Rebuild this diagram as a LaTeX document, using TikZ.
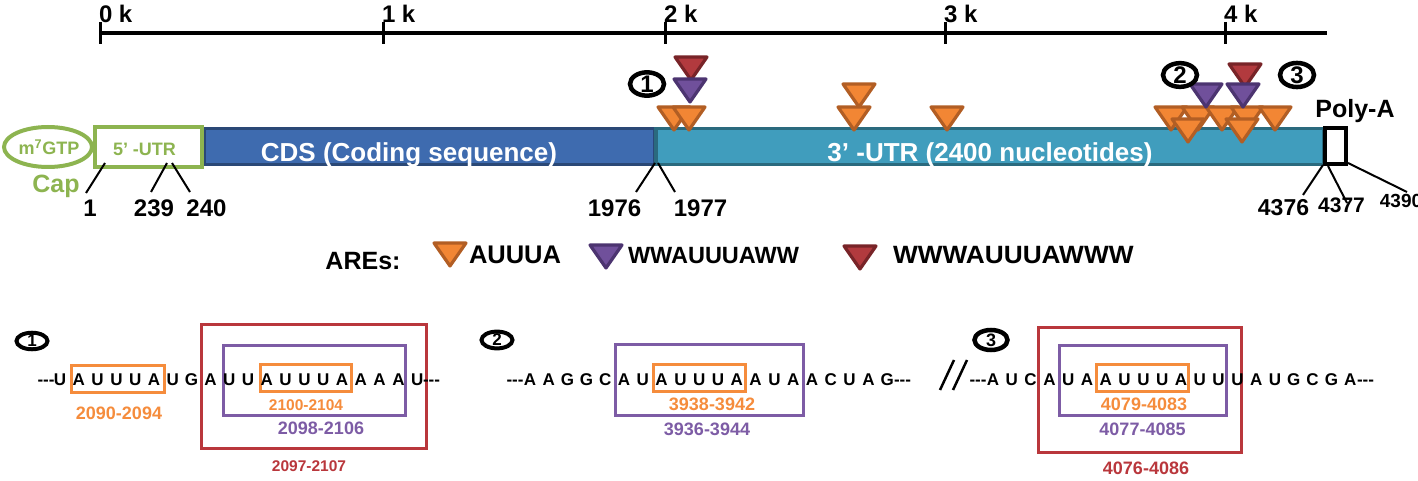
\documentclass[tikz,border=0pt]{standalone}
\usepackage{fontspec}
\setmainfont{Liberation Sans}
\usepackage{graphicx}
\usetikzlibrary{shapes.geometric}
\definecolor{capg}{RGB}{141,180,80}
\definecolor{cdsf}{RGB}{62,107,175}
\definecolor{cdsd}{RGB}{42,72,118}
\definecolor{utrf}{RGB}{64,157,189}
\definecolor{utrd}{RGB}{42,106,126}
\definecolor{orf}{RGB}{242,134,52}
\definecolor{ord}{RGB}{178,94,36}
\definecolor{puf}{RGB}{112,80,155}
\definecolor{pud}{RGB}{76,52,112}
\definecolor{redf}{RGB}{178,58,62}
\definecolor{redd}{RGB}{120,36,40}
\definecolor{obox}{RGB}{245,140,60}
\definecolor{pbox}{RGB}{125,92,165}
\definecolor{rbox}{RGB}{185,55,60}
\tikzset{
  f/.style={font={\fontsize{#1}{#1}\selectfont\bfseries}},
  lbl/.style={inner sep=0pt, outer sep=0pt, anchor=base},
  seq/.style={lbl, f=17},
  tri/.style={line width=3.2pt, line join=round},
  orangetri/.style={tri, fill=orf, draw=ord},
  purpletri/.style={tri, fill=puf, draw=pud},
  redtri/.style={tri, fill=redf, draw=redd},
  numc/.style={draw, ellipse, line width=4.5pt, inner sep=0pt, fill=white},
  leader/.style={line width=2pt},
  obx/.style={draw=obox, line width=3pt},
  pbx/.style={draw=pbox, line width=3pt},
  rbx/.style={draw=rbox, line width=3.5pt},
}
\newcommand\aretri[3]{\draw[#3] (#1-16,#2+2) -- (#1+16,#2+2) -- (#1,#2+25) -- cycle;}
\begin{document}
\begin{tikzpicture}[x=1pt,y=-1pt]
\useasboundingbox (0,0) rectangle (1418,481);

% scale bar
\draw[line width=3.5pt] (100,33) -- (1327,33);
\foreach \x/\l in {100/0,383/1,665/2,945/3,1225/4}{
  \draw[line width=3pt] (\x,22) -- (\x,44);
  \node[lbl, anchor=base west, f=24] (tick\l) at (\x-1,23) {\l\ k};
}

% bars
\node[draw=cdsd, fill=cdsf, line width=3pt, minimum width=450pt, minimum height=36pt, inner sep=0pt] (cds) at (429,146.5) {};
\node[draw=utrd, fill=utrf, line width=3.5pt, minimum width=668pt, minimum height=36pt, inner sep=0pt] (utr3) at (990,146.5) {};
\node[draw=capg, fill=white, line width=4pt, minimum width=107pt, minimum height=40pt, inner sep=0pt] (utr5) at (148.5,147) {};
\node[draw=capg, fill=white, line width=4pt, ellipse, minimum width=88pt, minimum height=40pt, inner sep=0pt] (cap) at (48,147) {};
\node[draw, fill=white, line width=4pt, minimum width=21pt, minimum height=36pt, inner sep=0pt] (polyA) at (1335.5,146) {};

\node[lbl, f=18, text=capg] (capt) at (49,155) {m\textsuperscript{7}GTP};
\node[lbl, f=25, text=capg] (capl) at (56,193) {Cap};
\node[lbl, f=18, text=capg] (utr5t) at (144.5,156) {5’ -UTR};
\node[lbl, f=26, text=white] (cdst) at (409,161.5) {CDS (Coding sequence)};
\node[lbl, f=26, text=white] (utr3t) at (990,161.5) {3’ -UTR (2400 nucleotides)};
\node[lbl, f=25] (polyAt) at (1355,118) {Poly-A};

% position labels
\node[lbl, f=24] (p1) at (90,216.5) {1};
\node[lbl, f=24] (p239) at (154,216.5) {239};
\node[lbl, f=24] (p240) at (206.5,216.5) {240};
\node[lbl, f=24] (p1976) at (614.5,216.5) {1976};
\node[lbl, f=24] (p1977) at (700.5,216.5) {1977};
\node[lbl, f=23] (p4376) at (1283.5,215) {4376};
\node[lbl, f=21] (p4377) at (1341.5,212) {4377};
\node[lbl, f=19] (p4390) at (1401,207.5) {4390};

\coordinate (a1) at (105,163);   \coordinate (b1) at (86,193);
\coordinate (a239) at (167,163); \coordinate (b239) at (151,192);
\coordinate (a240) at (172,163); \coordinate (b240) at (190,192);
\coordinate (a1976) at (655,163); \coordinate (b1976) at (636,192);
\coordinate (a1977) at (658,163); \coordinate (b1977) at (675,192);
\coordinate (a4376) at (1323,165); \coordinate (b4376) at (1303,195);
\coordinate (a4377) at (1328,166); \coordinate (b4377) at (1347,203);
\coordinate (a4390) at (1348,163); \coordinate (b4390) at (1407,192);
\foreach \n in {1,239,240,1976,1977,4376,4377,4390}{\draw[leader] (a\n) -- (b\n);}

% ARE triangles on the map
\aretri{674}{105}{orangetri}
\aretri{689}{105}{orangetri}
\aretri{859}{82}{orangetri}
\aretri{854}{105}{orangetri}
\aretri{947}{105}{orangetri}
\aretri{1171}{105}{orangetri}
\aretri{1198}{105}{orangetri}
\aretri{1222}{105}{orangetri}
\aretri{1247}{105}{orangetri}
\aretri{1275}{105}{orangetri}
\aretri{1188}{117}{orangetri}
\aretri{1242}{117}{orangetri}
\aretri{691}{55}{redtri}
\aretri{1245}{62}{redtri}
\aretri{690}{77}{purpletri}
\aretri{1206}{82}{purpletri}
\aretri{1243}{82}{purpletri}

% circled numbers on the map
\node[numc, minimum width=34pt, minimum height=23pt, f=24] (m1) at (647,84) {1};
\node[numc, minimum width=34pt, minimum height=23pt, f=24] (m2) at (1180,75) {2};
\node[numc, minimum width=34pt, minimum height=23pt, f=24] (m3) at (1297,75) {3};

% legend
\node[lbl, f=25] (ares) at (363,269) {AREs:};
\aretri{450}{241}{orangetri}
\node[lbl, anchor=base west, f=25.5] (lg1) at (469,263) {AUUUA};
\aretri{606}{243}{purpletri}
\node[lbl, anchor=base west, f=23.5] (lg2) at (628,263) {WWAUUUAWW};
\aretri{860}{244}{redtri}
\node[lbl, anchor=base west, f=25] (lg3) at (893,263) {\scalebox{1.05}[1]{WWWAUUUAWWW}};

% ---- sequence 1
\node[numc, minimum width=31pt, minimum height=16pt, line width=4pt, f=17] (s1n) at (32,341) {1};
\draw[rbx] (201.5,324.5) rectangle (426.5,448.5);
\draw[pbx] (223.5,345.5) rectangle (405.5,415.5);
\draw[obx] (71.5,365.5) rectangle (164.5,392.5);
\draw[obx] (260.5,364.5) rectangle (351.5,391.5);
\foreach \c [count=\i from 0] in {U,A,U,U,U,A,U,G,A,U,U,A,U,U,U,A,A,A,A,U}
  \node[seq] (r1-\i) at (60+\i*18.8,385) {\c};
\node[seq, anchor=base east] (r1l) at (54.5,385) {-{}-{}-};
\node[seq, anchor=base west] (r1r) at (423,385) {-{}-{}-};
\node[lbl, f=18, text=obox] (l2090) at (119,419.5) {2090-2094};
\node[lbl, f=15.5, text=obox] (l2100) at (306,410) {2100-2104};
\node[lbl, f=18, text=pbox] (l2098) at (321,434) {2098-2106};
\node[lbl, f=15.5, text=rbox] (l2097) at (309,471.5) {2097-2107};

% ---- sequence 2
\node[numc, minimum width=31pt, minimum height=16pt, line width=4pt, f=17] (s2n) at (497,340) {2};
\draw[pbx] (615.5,344.5) rectangle (803.5,415.5);
\draw[obx] (653.5,364.5) rectangle (745.5,391.5);
\foreach \c [count=\i from 0] in {A,A,G,G,C,A,U,A,U,U,U,A,A,U,A,A,C,U,A,G}
  \node[seq] (r2-\i) at (530+\i*18.8,385) {\c};
\node[seq, anchor=base east] (r2l) at (523.5,385) {-{}-{}-};
\node[seq, anchor=base west] (r2r) at (894,385) {-{}-{}-};
\node[lbl, f=18, text=obox] (l3938) at (712,410) {3938-3942};
\node[lbl, f=18, text=pbox] (l3936) at (707,435.5) {3936-3944};

% ---- sequence 3
\node[numc, minimum width=33pt, minimum height=20pt, line width=4.5pt, f=18] (s3n) at (991,340) {3};
\draw[rbx] (1038.5,327.5) rectangle (1241.5,452.5);
\draw[pbx] (1059.5,345.5) rectangle (1226.5,415.5);
\draw[obx] (1096.5,364.5) rectangle (1188.5,391.5);
\coordinate (sl1a) at (940,390); \coordinate (sl1b) at (954,360);
\coordinate (sl2a) at (953,390); \coordinate (sl2b) at (967,360);
\draw[line width=2.5pt] (sl1a) -- (sl1b);
\draw[line width=2.5pt] (sl2a) -- (sl2b);
\foreach \c [count=\i from 0] in {A,U,C,A,U,A,A,U,U,U,A,U,U,U,A,U,G,C,G,A}
  \node[seq] (r3-\i) at (993+\i*18.8,385) {\c};
\node[seq, anchor=base east] (r3l) at (986.5,385) {-{}-{}-};
\node[seq, anchor=base west] (r3r) at (1357,385) {-{}-{}-};
\node[lbl, f=18, text=obox] (l4079) at (1144,410) {4079-4083};
\node[lbl, f=18, text=pbox] (l4077) at (1142.5,435.5) {4077-4085};
\node[lbl, f=18, text=rbox] (l4076) at (1146,474) {4076-4086};
\end{tikzpicture}
\end{document}
